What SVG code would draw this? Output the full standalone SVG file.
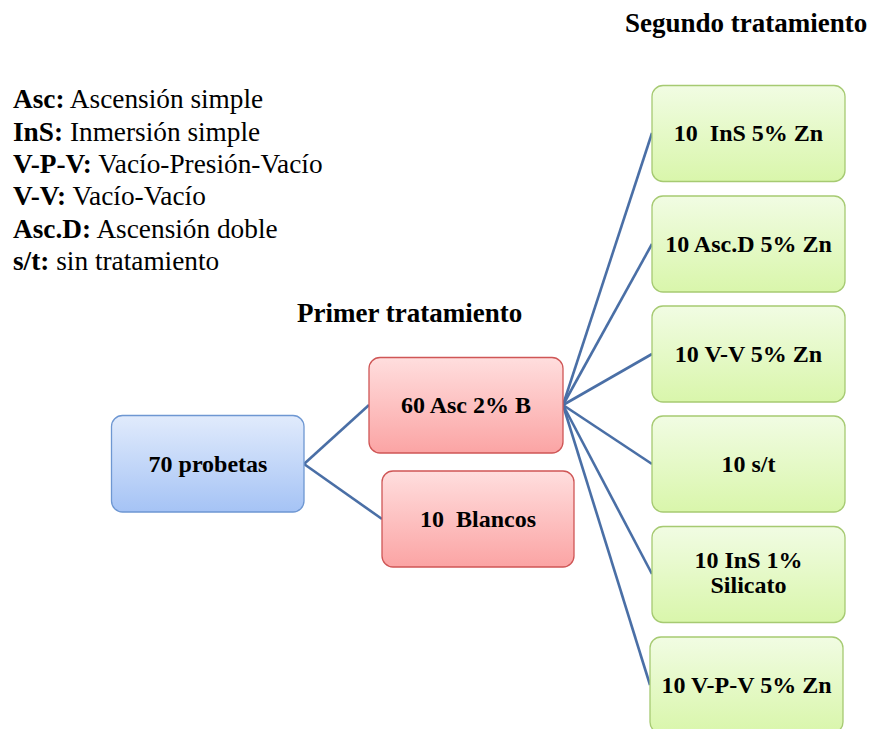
<svg xmlns="http://www.w3.org/2000/svg" width="877" height="729" viewBox="0 0 877 729">
<defs>
<linearGradient id="gBlue" x1="0" y1="0" x2="0" y2="1">
<stop offset="0" stop-color="#e1ebfc"/><stop offset="1" stop-color="#a5c3f5"/>
</linearGradient>
<linearGradient id="gRed" x1="0" y1="0" x2="0" y2="1">
<stop offset="0" stop-color="#ffdede"/><stop offset="1" stop-color="#fba4a4"/>
</linearGradient>
<linearGradient id="gGreen" x1="0" y1="0" x2="0" y2="1">
<stop offset="0" stop-color="#f1fce3"/><stop offset="1" stop-color="#d9f6ab"/>
</linearGradient>
</defs>
<style>
text{font-family:"Liberation Serif","Times New Roman",serif;fill:#000;}
.b{font-weight:bold;}
.leg{font-size:27.3px;}
.title{font-size:27px;font-weight:bold;}
.nt{font-size:24px;font-weight:bold;text-anchor:middle;white-space:pre;}
.blue{fill:url(#gBlue);stroke:#6e97d2;stroke-width:1.3;}
.red{fill:url(#gRed);stroke:#cf5656;stroke-width:1.3;}
.green{fill:url(#gGreen);stroke:#a6ca72;stroke-width:1.3;}
.con{stroke:#4a6fa6;stroke-width:2.6;fill:none;}
</style>
<rect width="877" height="729" fill="#fff"/>
<g id="legend">
<text class="leg" x="13" y="108"><tspan class="b">Asc:</tspan> Ascensión simple</text>
<text class="leg" x="13" y="141"><tspan class="b">InS:</tspan> Inmersión simple</text>
<text class="leg" x="13" y="173"><tspan class="b">V-P-V:</tspan> Vacío-Presión-Vacío</text>
<text class="leg" x="13" y="205"><tspan class="b">V-V:</tspan> Vacío-Vacío</text>
<text class="leg" x="13" y="238"><tspan class="b">Asc.D:</tspan> Ascensión doble</text>
<text class="leg" x="13" y="270"><tspan class="b">s/t:</tspan> sin tratamiento</text>
</g>
<g id="titles">
<text class="title" x="625" y="32">Segundo tratamiento</text>
<text class="title" x="297" y="322">Primer tratamiento</text>
</g>
<g id="connectors">
<line class="con" x1="304" y1="464" x2="369" y2="405"/>
<line class="con" x1="304" y1="464" x2="382" y2="519"/>
<line class="con" x1="563" y1="405" x2="652" y2="133"/>
<line class="con" x1="563" y1="405" x2="652" y2="244"/>
<line class="con" x1="563" y1="405" x2="652" y2="354"/>
<line class="con" x1="563" y1="405" x2="652" y2="464"/>
<line class="con" x1="563" y1="405" x2="652" y2="574"/>
<line class="con" x1="563" y1="405" x2="650" y2="685"/>
</g>
<g id="n70">
<rect class="blue" x="111.5" y="415.5" width="192.5" height="96.5" rx="11"/>
<text class="nt" x="208" y="472">70 probetas</text>
</g>
<g id="n60">
<rect class="red" x="369" y="357.5" width="194" height="95.5" rx="11"/>
<text class="nt" x="466" y="413">60 Asc 2% B</text>
</g>
<g id="nBlancos">
<rect class="red" x="382" y="471" width="192" height="96" rx="11"/>
<text class="nt" x="478" y="527">10  Blancos</text>
</g>
<g id="g1">
<rect class="green" x="652" y="85.5" width="193" height="96" rx="11"/>
<text class="nt" x="748.5" y="141">10  InS 5% Zn</text>
</g>
<g id="g2">
<rect class="green" x="652" y="196" width="193" height="96" rx="11"/>
<text class="nt" x="748.5" y="252">10 Asc.D 5% Zn</text>
</g>
<g id="g3">
<rect class="green" x="652" y="306" width="193" height="96" rx="11"/>
<text class="nt" x="748.5" y="362">10 V-V 5% Zn</text>
</g>
<g id="g4">
<rect class="green" x="652" y="416" width="193" height="96" rx="11"/>
<text class="nt" x="748.5" y="472">10 s/t</text>
</g>
<g id="g5">
<rect class="green" x="652" y="526.5" width="193" height="96" rx="11"/>
<text class="nt" x="748.5" y="568">10 InS 1%</text>
<text class="nt" x="748.5" y="593">Silicato</text>
</g>
<g id="g6">
<rect class="green" x="650" y="637" width="193" height="96" rx="11"/>
<text class="nt" x="746.5" y="693">10 V-P-V 5% Zn</text>
</g>
</svg>
